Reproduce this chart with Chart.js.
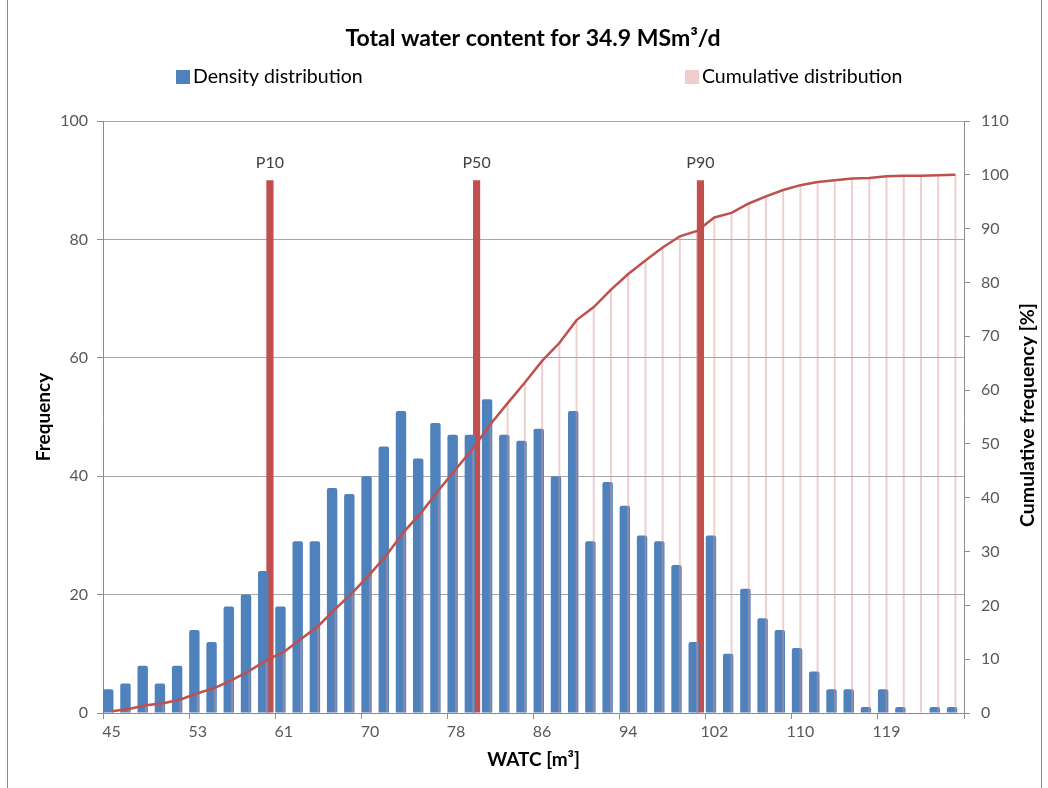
<!DOCTYPE html>
<html lang="en">
<head>
  <meta charset="UTF-8"/>
  <title>Total water content for 34.9 MSm³/d</title>
  <script src="https://cdn.jsdelivr.net/npm/chart.js@4.4.1/dist/chart.umd.min.js"></script>
  <style>
    html, body { margin: 0; padding: 0; background: #fff; }
    #wrap { position: relative; width: 1048px; height: 788px; }
    #frame { position: absolute; left: 7px; top: 0; width: 1035px; height: 788px; box-sizing: border-box;
             border-left: 1px solid #8c8c8c; border-right: 1px solid #8c8c8c; pointer-events: none; }
  </style>
</head>
<body>
  <div id="wrap">
    <canvas id="chart"></canvas>
    <div id="frame"></div>
  </div>
  <script>
    // WATC bin labels (only every 5th is shown on the axis)
    const watcLabels = ['45','47','48','50','52','53','55','57','58','60',
                        '61','63','65','66','68','70','71','73','75','76',
                        '78','79','81','83','84','86','88','89','91','93',
                        '94','96','98','99','101','102','104','106','107','109',
                        '110','112','114','115','117','119','120','122','124','125'];
    // frequency per bin
    const density = [4, 5, 8, 5, 8, 14, 12, 18, 20, 24,
                     18, 29, 29, 38, 37, 40, 45, 51, 43, 49,
                     47, 47, 53, 47, 46, 48, 40, 51, 29, 39,
                     35, 30, 29, 25, 12, 30, 10, 21, 16, 14,
                     11, 7, 4, 4, 1, 4, 1, 0, 1, 1];
    // cumulative frequency [%]
    const cumulative = [0.33, 0.75, 1.42, 1.83, 2.5, 3.67, 4.67, 6.17, 7.83, 9.83,
                        11.33, 13.75, 16.17, 19.33, 22.42, 25.75, 29.5, 33.75, 37.33, 41.42,
                        45.33, 49.25, 53.67, 57.58, 61.42, 65.42, 68.75, 73, 75.42, 78.67,
                        81.58, 84.08, 86.5, 88.58, 89.58, 92.08, 92.92, 94.67, 96, 97.17,
                        98.08, 98.67, 99, 99.33, 99.42, 99.75, 99.83, 99.83, 99.92, 100];
    // percentile markers
    const pNames = ['P10', 'P50', 'P90'];
    const pIndex = [9, 21, 34];
    const pHeight = 90;

    const blue = '#4f81bd';
    const red = '#c0504d';
    const pink = 'rgba(217,150,148,0.45)';
    const axisGray = '#8c8c8c';
    const gridGray = '#a6a6a6';
    const tickText = '#595959';

    Chart.defaults.font.family = 'Lato';
    Chart.defaults.color = tickText;

    const pBars = watcLabels.map((_, i) => pIndex.includes(i) ? pHeight : null);

    const extras = {
      id: 'extras',
      afterDatasetsDraw(chart) {
        const ctx = chart.ctx;
        const meta = chart.getDatasetMeta(1);
        ctx.save();
        ctx.font = '16px Lato';
        ctx.fillStyle = '#404040';
        ctx.textAlign = 'center';
        ctx.textBaseline = 'middle';
        pIndex.forEach((idx, k) => {
          const bar = meta.data[idx];
          ctx.fillText(pNames[k], bar.x, bar.y - 17);
        });
        ctx.restore();
      },
      afterDraw(chart) {
        const ctx = chart.ctx;
        ctx.save();
        // legend
        const items = [{ ds: 0, x: 176 }, { ds: 2, x: 685 }];
        ctx.font = '19.5px Lato';
        ctx.textBaseline = 'middle';
        ctx.textAlign = 'left';
        items.forEach(it => {
          const ds = chart.data.datasets[it.ds];
          ctx.fillStyle = ds.legendColor;
          ctx.fillRect(it.x, 70, 14, 14);
          ctx.fillStyle = '#000';
          ctx.fillText(ds.label, it.x + 17, 77);
        });
        // right axis title, reading bottom to top
        const a = chart.chartArea;
        ctx.translate(1028, (a.top + a.bottom) / 2 - 2);
        ctx.rotate(-Math.PI / 2);
        ctx.font = 'bold 19.5px Lato';
        ctx.fillStyle = '#000';
        ctx.textAlign = 'center';
        ctx.fillText('Cumulative frequency [%]', 0, 0);
        ctx.restore();
      }
    };

    new Chart(document.getElementById('chart'), {
      data: {
        labels: watcLabels,
        datasets: [
          { type: 'bar', label: 'Density distribution', data: density, yAxisID: 'y',
            backgroundColor: blue, legendColor: blue, order: 2,
            categoryPercentage: 0.78, barPercentage: 1.55,
            borderRadius: { topLeft: 2, topRight: 2 } },
          { type: 'bar', label: 'Percentiles', data: pBars, yAxisID: 'y',
            backgroundColor: red, order: 3,
            categoryPercentage: 0.78, barPercentage: 1.07 },
          { type: 'bar', label: 'Cumulative distribution', data: cumulative, yAxisID: 'y2',
            backgroundColor: pink, legendColor: '#efcdcc', order: 1,
            grouped: false, maxBarThickness: 2 },
          { type: 'line', label: 'Cumulative', data: cumulative, yAxisID: 'y2',
            borderColor: red, borderWidth: 2.5, pointRadius: 0, tension: 0, order: 0 }
        ]
      },
      options: {
        responsive: true,
        maintainAspectRatio: false,
        animation: false,
        events: [],
        layout: { padding: { left: 18, right: 0, top: 0, bottom: 0 } },
        plugins: {
          legend: { display: false },
          tooltip: { enabled: false },
          title: {
            display: true,
            text: 'Total water content for 34.9 MSm³/d',
            color: '#000',
            font: { size: 23, weight: 'bold' },
            padding: { top: 25, bottom: 68.4 }
          }
        },
        scales: {
          x: {
            offset: true,
            grid: {
              offset: true, drawOnChartArea: false, tickLength: 6,
              tickColor: c => (c.index === undefined || c.index % 5 === 0) ? axisGray : 'rgba(0,0,0,0)'
            },
            border: { color: axisGray },
            ticks: {
              autoSkip: false, maxRotation: 0, padding: 3, font: { size: 16 }, color: tickText,
              callback: (v, i) => i % 5 === 0 ? watcLabels[i] : ''
            },
            title: { display: true, text: 'WATC [m³]', color: '#000',
                     font: { size: 19, weight: 'bold' }, padding: { top: 0, bottom: 17 } },
            afterFit: s => { s.height = 75; }
          },
          y: {
            position: 'left', min: 0, max: 100,
            ticks: { stepSize: 20, padding: 9, font: { size: 16 }, color: tickText },
            grid: { color: gridGray, tickLength: 6, tickColor: axisGray },
            border: { color: axisGray },
            title: { display: true, text: 'Frequency', color: '#000',
                     font: { size: 19, weight: 'bold' }, padding: { top: 14, bottom: 0 } },
            afterFit: s => { s.width = 85; }
          },
          y2: {
            position: 'right', min: 0, max: 110,
            ticks: { stepSize: 10, padding: 11, font: { size: 16 }, color: tickText },
            grid: { drawOnChartArea: false, tickLength: 6, tickColor: axisGray },
            border: { color: axisGray },
            afterFit: s => { s.width = 84; }
          }
        }
      },
      plugins: [extras]
    });
  </script>
</body>
</html>
